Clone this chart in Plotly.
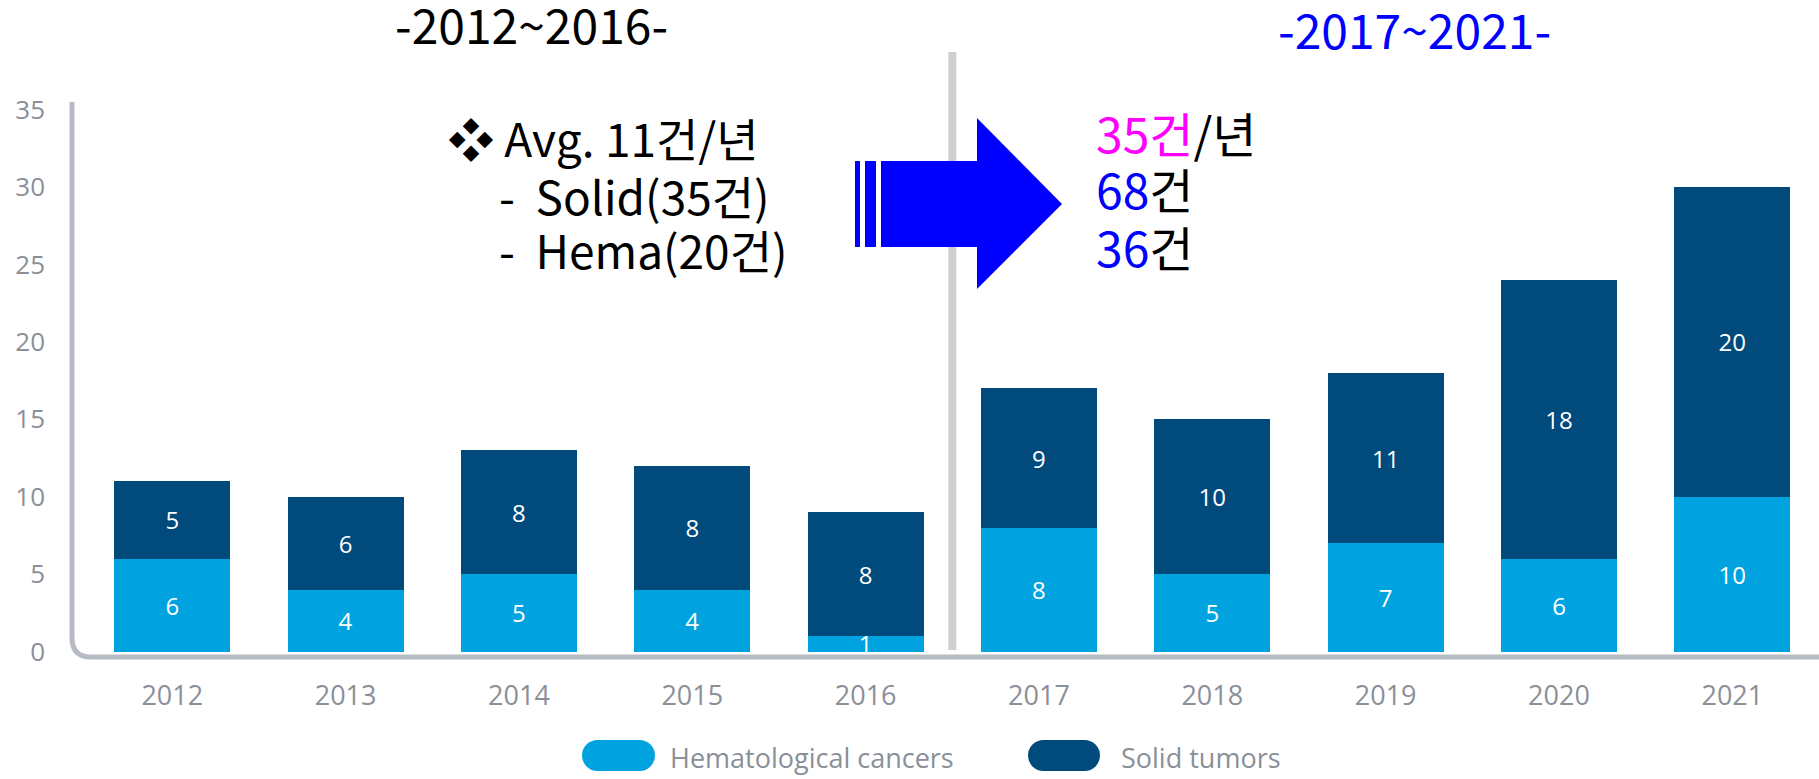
import plotly.graph_objects as go

# ---------------- data ----------------
years = ["2012", "2013", "2014", "2015", "2016", "2017", "2018", "2019", "2020", "2021"]
hematological = [6, 4, 5, 4, 1, 8, 5, 7, 6, 10]
solid = [5, 6, 8, 8, 8, 9, 10, 11, 18, 20]
y_ticks = [0, 5, 10, 15, 20, 25, 30, 35]

HEMA_COLOR = "#00A3E0"
SOLID_COLOR = "#004A7C"
AXIS_GRAY = "#B7BBC2"
TEXT_GRAY = "#8A8F98"
KR_FONT = "Noto Sans CJK KR"
LAT_FONT = "Open Sans"

W, H = 1819, 779
L, R, T, B = 70, 1819, 102, 657


def px(x):
    return (x - L) / (R - L)


def py(y):
    return (B - y) / (B - T)


fig = go.Figure()
fig.add_trace(go.Bar(
    x=years, y=hematological, name="Hematological cancers",
    marker=dict(color=HEMA_COLOR, line=dict(width=0)),
    text=hematological, textposition="inside", insidetextanchor="middle",
    constraintext="none", textangle=0,
    textfont=dict(color="white", size=24, family=LAT_FONT),
))
fig.add_trace(go.Bar(
    x=years, y=solid, name="Solid tumors",
    marker=dict(color=SOLID_COLOR, line=dict(width=0)),
    text=solid, textposition="inside", insidetextanchor="middle",
    constraintext="none", textangle=0,
    textfont=dict(color="white", size=24, family=LAT_FONT),
))

shapes = []
# divider between periods
shapes.append(dict(type="line", xref="x", yref="paper", x0=4.5, x1=4.5,
                   y0=py(650), y1=py(52), line=dict(color="#D0CECE", width=8)))

# axis lines with rounded corner
ax_path = (f"M {px(72)},{py(102)} L {px(72)},{py(638)} "
           f"Q {px(72)},{py(657)} {px(91)},{py(657)} L {px(1819)},{py(657)}")
shapes.append(dict(type="path", xref="paper", yref="paper", path=ax_path,
                   line=dict(color=AXIS_GRAY, width=5)))

# block arrow
ARROW = "#0000FF"
for x0, x1 in [(855, 860), (865, 876)]:
    shapes.append(dict(type="rect", xref="paper", yref="paper",
                       x0=px(x0), x1=px(x1), y0=py(247), y1=py(161),
                       fillcolor=ARROW, line=dict(width=0)))
pts = [(881, 161), (977, 161), (977, 118), (1062, 204), (977, 289), (977, 247), (881, 247)]
arrow_path = "M " + " L ".join(f"{px(a)},{py(b)}" for a, b in pts) + " Z"
shapes.append(dict(type="path", xref="paper", yref="paper", path=arrow_path,
                   fillcolor=ARROW, line=dict(width=0)))


# legend pills
def pill(x0, x1, y0, y1, color):
    r = (y1 - y0) / 2
    out = []
    out.append(dict(type="rect", xref="paper", yref="paper", x0=px(x0 + r), x1=px(x1 - r),
                    y0=py(y1), y1=py(y0), fillcolor=color, line=dict(width=0)))
    out.append(dict(type="circle", xref="paper", yref="paper", x0=px(x0), x1=px(x0 + 2 * r),
                    y0=py(y1), y1=py(y0), fillcolor=color, line=dict(width=0)))
    out.append(dict(type="circle", xref="paper", yref="paper", x0=px(x1 - 2 * r), x1=px(x1),
                    y0=py(y1), y1=py(y0), fillcolor=color, line=dict(width=0)))
    return out


shapes += pill(582, 655, 740, 771, HEMA_COLOR)
shapes += pill(1028, 1100, 740, 771, SOLID_COLOR)

annotations = []


def ann(text, x, y, size, color="black", xanchor="left", family=KR_FONT):
    annotations.append(dict(text=text, x=px(x), y=py(y), xref="paper", yref="paper",
                            xanchor=xanchor, yanchor="middle", showarrow=False,
                            font=dict(size=size, color=color, family=family)))


BIG = 48
MID = 46
ann("-2012~2016-", 531, 23, BIG, xanchor="center")
ann("-2017~2021-", 1414, 28, BIG, color="#0000FF", xanchor="center")
ann("❖ Avg. 11건/년", 446, 137, MID)
ann("-  Solid(35건)", 497, 195, MID)
ann("-  Hema(20건)", 497, 249, MID)
ann('<span style="color:#FF00FF">35건</span>/년', 1094, 132, BIG)
ann('<span style="color:#0000FF">68</span>건', 1094, 188, BIG)
ann('<span style="color:#0000FF">36</span>건', 1094, 246, BIG)
ann("Hematological cancers", 668, 757, 27, color=TEXT_GRAY, family=LAT_FONT)
ann("Solid tumors", 1119, 757, 27, color=TEXT_GRAY, family=LAT_FONT)

fig.update_layout(
    width=W, height=H,
    margin=dict(l=L, r=W - R, t=T, b=H - B, pad=0),
    barmode="stack", bargap=0.33,
    plot_bgcolor="white", paper_bgcolor="white",
    showlegend=False,
    shapes=shapes, annotations=annotations,
    xaxis=dict(type="category", range=[-0.59, 9.5], showgrid=False, showline=False,
               zeroline=False, ticks="", ticklabelstandoff=20,
               tickfont=dict(size=27, color=TEXT_GRAY, family=LAT_FONT)),
    yaxis=dict(range=[-0.35, 35.5], tickvals=y_ticks, showgrid=False, showline=False,
               zeroline=False, ticks="", ticklabelstandoff=24,
               tickfont=dict(size=26, color=TEXT_GRAY, family=LAT_FONT)),
)

fig.write_html("out.html", config={"displayModeBar": False},
               post_script="document.body.style.margin='0';document.body.style.overflow='hidden';")
